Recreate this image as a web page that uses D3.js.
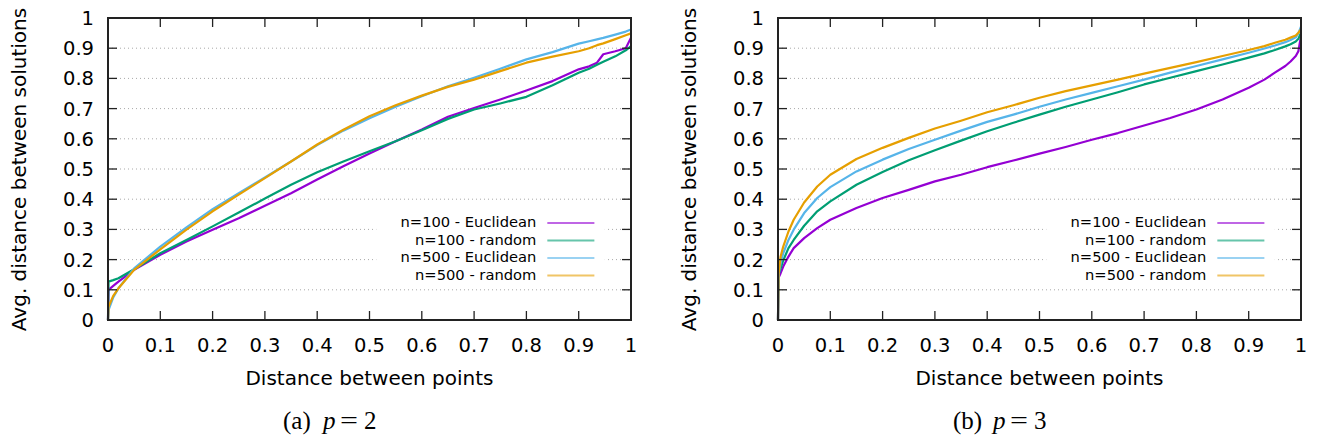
<!DOCTYPE html>
<html>
<head>
<meta charset="utf-8">
<script src="https://cdn.jsdelivr.net/npm/d3@7"></script>
<style>
  html, body { margin: 0; padding: 0; background: #fff; }
  svg { display: block; }
  text { font-family: "DejaVu Sans", sans-serif; fill: #000; }
</style>
</head>
<body>
<svg id="chart" width="1317" height="440"></svg>
<script>
// ---------------- data ----------------
const seriesNames = ["n=100 - Euclidean", "n=100 - random", "n=500 - Euclidean", "n=500 - random"];
const seriesColors = ["#9400d3", "#009e73", "#56b4e9", "#e69f00"];
const xTickValues = [0, 0.1, 0.2, 0.3, 0.4, 0.5, 0.6, 0.7, 0.8, 0.9, 1];
const xTickLabels = ["0", "0.1", "0.2", "0.3", "0.4", "0.5", "0.6", "0.7", "0.8", "0.9", "1"];
const yTickValues = [0, 0.1, 0.2, 0.3, 0.4, 0.5, 0.6, 0.7, 0.8, 0.9, 1];
const yTickLabels = ["0", "0.1", "0.2", "0.3", "0.4", "0.5", "0.6", "0.7", "0.8", "0.9", "1"];
const xTitle = "Distance between points";
const yTitle = "Avg. distance between solutions";

// p = 2
const p2X = [0, 0.001, 0.01, 0.02, 0.05, 0.1, 0.15, 0.2, 0.25, 0.3, 0.35, 0.4, 0.45, 0.5, 0.55, 0.6, 0.65, 0.7, 0.75, 0.8, 0.85, 0.9, 0.92, 0.935, 0.947, 0.97, 0.99, 1];
const p2Euclid100 = [0, 0.100, 0.113, 0.127, 0.166, 0.216, 0.260, 0.299, 0.337, 0.378, 0.420, 0.465, 0.509, 0.551, 0.592, 0.631, 0.673, 0.702, 0.730, 0.760, 0.791, 0.830, 0.840, 0.852, 0.880, 0.890, 0.900, 0.935];
const p2Random100 = [0, 0.127, 0.132, 0.138, 0.168, 0.221, 0.265, 0.310, 0.356, 0.402, 0.448, 0.489, 0.525, 0.559, 0.592, 0.628, 0.666, 0.697, 0.717, 0.739, 0.777, 0.819, 0.832, 0.845, 0.855, 0.873, 0.893, 0.907];
const p2Euclid500 = [0, 0.033, 0.075, 0.105, 0.171, 0.243, 0.307, 0.367, 0.420, 0.472, 0.525, 0.579, 0.627, 0.668, 0.706, 0.741, 0.774, 0.802, 0.832, 0.863, 0.887, 0.915, 0.923, 0.929, 0.934, 0.945, 0.955, 0.962];
const p2Random500 = [0, 0.044, 0.080, 0.105, 0.166, 0.234, 0.299, 0.360, 0.415, 0.470, 0.525, 0.581, 0.630, 0.675, 0.711, 0.743, 0.772, 0.796, 0.824, 0.852, 0.872, 0.890, 0.900, 0.910, 0.916, 0.930, 0.943, 0.949];

// p = 3
const p3X = [0, 0.001, 0.005, 0.01, 0.02, 0.03, 0.05, 0.075, 0.1, 0.15, 0.2, 0.25, 0.3, 0.35, 0.4, 0.45, 0.5, 0.55, 0.6, 0.65, 0.7, 0.75, 0.8, 0.85, 0.9, 0.93, 0.95, 0.97, 0.98, 0.99, 0.995, 1];
const p3Euclid100 = [0, 0.140, 0.155, 0.177, 0.210, 0.238, 0.271, 0.304, 0.332, 0.371, 0.404, 0.431, 0.459, 0.481, 0.506, 0.528, 0.551, 0.573, 0.597, 0.619, 0.644, 0.669, 0.697, 0.730, 0.769, 0.796, 0.819, 0.841, 0.856, 0.874, 0.890, 0.940];
const p3Random100 = [0, 0.150, 0.171, 0.197, 0.238, 0.265, 0.312, 0.360, 0.393, 0.448, 0.490, 0.529, 0.562, 0.594, 0.625, 0.653, 0.680, 0.706, 0.730, 0.754, 0.780, 0.802, 0.824, 0.846, 0.869, 0.883, 0.894, 0.906, 0.913, 0.922, 0.931, 0.951];
const p3Euclid500 = [0, 0.150, 0.188, 0.221, 0.265, 0.299, 0.354, 0.404, 0.440, 0.492, 0.531, 0.566, 0.597, 0.627, 0.656, 0.680, 0.706, 0.730, 0.752, 0.774, 0.796, 0.819, 0.841, 0.863, 0.885, 0.899, 0.909, 0.920, 0.927, 0.936, 0.949, 0.971];
const p3Random500 = [0, 0.150, 0.210, 0.243, 0.293, 0.332, 0.389, 0.442, 0.481, 0.533, 0.570, 0.603, 0.634, 0.660, 0.688, 0.711, 0.736, 0.758, 0.777, 0.796, 0.816, 0.835, 0.854, 0.874, 0.894, 0.907, 0.918, 0.928, 0.935, 0.942, 0.951, 0.962];

const panels = [
  { x: p2X, ys: [p2Euclid100, p2Random100, p2Euclid500, p2Random500], caption: ["(a)", "p", "=", "2"] },
  { x: p3X, ys: [p3Euclid100, p3Random100, p3Euclid500, p3Random500], caption: ["(b)", "p", "=", "3"] }
];

// ---------------- layout ----------------
const svg = d3.select("#chart");
const panelLeft = [108, 778];
const plotW = 523, plotTop = 18, plotBottom = 320;
const tickLen = 9;
const frameColor = "#222";

panels.forEach((panel, pi) => {
  const x0 = panelLeft[pi];
  const g = svg.append("g");
  const x = d3.scaleLinear().domain([0, 1]).range([x0, x0 + plotW]);
  const y = d3.scaleLinear().domain([0, 1]).range([plotBottom, plotTop]);

  // horizontal dotted grid
  g.append("g").selectAll("line")
    .data(yTickValues.filter(v => v > 0 && v < 1))
    .join("line")
    .attr("x1", x(0)).attr("x2", x(1))
    .attr("y1", d => y(d)).attr("y2", d => y(d))
    .attr("stroke", "#a8a8a8").attr("stroke-width", 1)
    .attr("stroke-dasharray", "1,3");

  // legend background (opaque key)
  const legX = x(0.513), legW = x(0.95) - x(0.513);
  g.append("rect")
    .attr("x", legX).attr("y", y(0.365))
    .attr("width", legW).attr("height", y(0.12) - y(0.365))
    .attr("fill", "#fff");

  // series lines
  const line = d3.line().x(d => x(d[0])).y(d => y(d[1]));
  panel.ys.forEach((vals, si) => {
    const pts = panel.x.map((xv, i) => [xv, vals[i]]);
    g.append("path")
      .datum(pts)
      .attr("d", line)
      .attr("fill", "none")
      .attr("stroke", seriesColors[si])
      .attr("stroke-width", 2.2)
      .attr("stroke-linejoin", "round");
  });

  // legend
  const legRowY = [223, 240.5, 258, 275.5];
  const leg = g.append("g");
  seriesNames.forEach((name, si) => {
    leg.append("text")
      .attr("x", x(0.819)).attr("y", legRowY[si])
      .attr("text-anchor", "end")
      .attr("dominant-baseline", "middle")
      .style("font-size", "14.7px")
      .text(name);
    leg.append("line")
      .attr("x1", x(0.84)).attr("x2", x(0.93))
      .attr("y1", legRowY[si]).attr("y2", legRowY[si])
      .attr("stroke", seriesColors[si])
      .attr("stroke-opacity", 0.6)
      .attr("stroke-width", 2);
  });

  // ticks (mirrored, inward)
  const tg = g.append("g").attr("stroke", frameColor).attr("stroke-width", 1.3);
  xTickValues.forEach(v => {
    tg.append("line").attr("x1", x(v)).attr("x2", x(v)).attr("y1", y(0)).attr("y2", y(0) - tickLen);
    tg.append("line").attr("x1", x(v)).attr("x2", x(v)).attr("y1", y(1)).attr("y2", y(1) + tickLen);
  });
  yTickValues.forEach(v => {
    tg.append("line").attr("x1", x(0)).attr("x2", x(0) + tickLen).attr("y1", y(v)).attr("y2", y(v));
    tg.append("line").attr("x1", x(1)).attr("x2", x(1) - tickLen).attr("y1", y(v)).attr("y2", y(v));
  });

  // frame
  g.append("rect")
    .attr("x", x(0)).attr("y", y(1))
    .attr("width", x(1) - x(0)).attr("height", y(0) - y(1))
    .attr("fill", "none").attr("stroke", frameColor).attr("stroke-width", 2);

  // tick labels
  g.append("g").selectAll("text")
    .data(xTickValues)
    .join("text")
    .attr("x", d => x(d)).attr("y", 352)
    .attr("text-anchor", "middle")
    .style("font-size", "19.5px")
    .text((d, i) => xTickLabels[i]);
  g.append("g").selectAll("text")
    .data(yTickValues)
    .join("text")
    .attr("x", x(0) - 14).attr("y", d => y(d) + 7)
    .attr("text-anchor", "end")
    .style("font-size", "19.5px")
    .text((d, i) => yTickLabels[i]);

  // axis titles
  g.append("text")
    .attr("x", (x(0) + x(1)) / 2).attr("y", 385)
    .attr("text-anchor", "middle")
    .style("font-size", "20px")
    .text(xTitle);
  g.append("text")
    .attr("transform", `translate(${x0 - 82},169.5) rotate(-90)`)
    .attr("text-anchor", "middle")
    .style("font-size", "20px")
    .text(yTitle);

  // caption
  const cap = g.append("text")
    .attr("y", 429)
    .style("font-family", "'Liberation Serif', 'DejaVu Serif', serif")
    .style("font-size", "25px");
  const off = x0 - 108;
  cap.append("tspan").attr("x", 283 + off).text(panel.caption[0]);
  cap.append("tspan").attr("x", 323 + off).style("font-style", "italic").text(panel.caption[1]);
  cap.append("tspan").attr("x", 340 + off).attr("textLength", 18).attr("lengthAdjust", "spacingAndGlyphs").text(panel.caption[2]);
  cap.append("tspan").attr("x", 364 + off).text(panel.caption[3]);
});
</script>
</body>
</html>
